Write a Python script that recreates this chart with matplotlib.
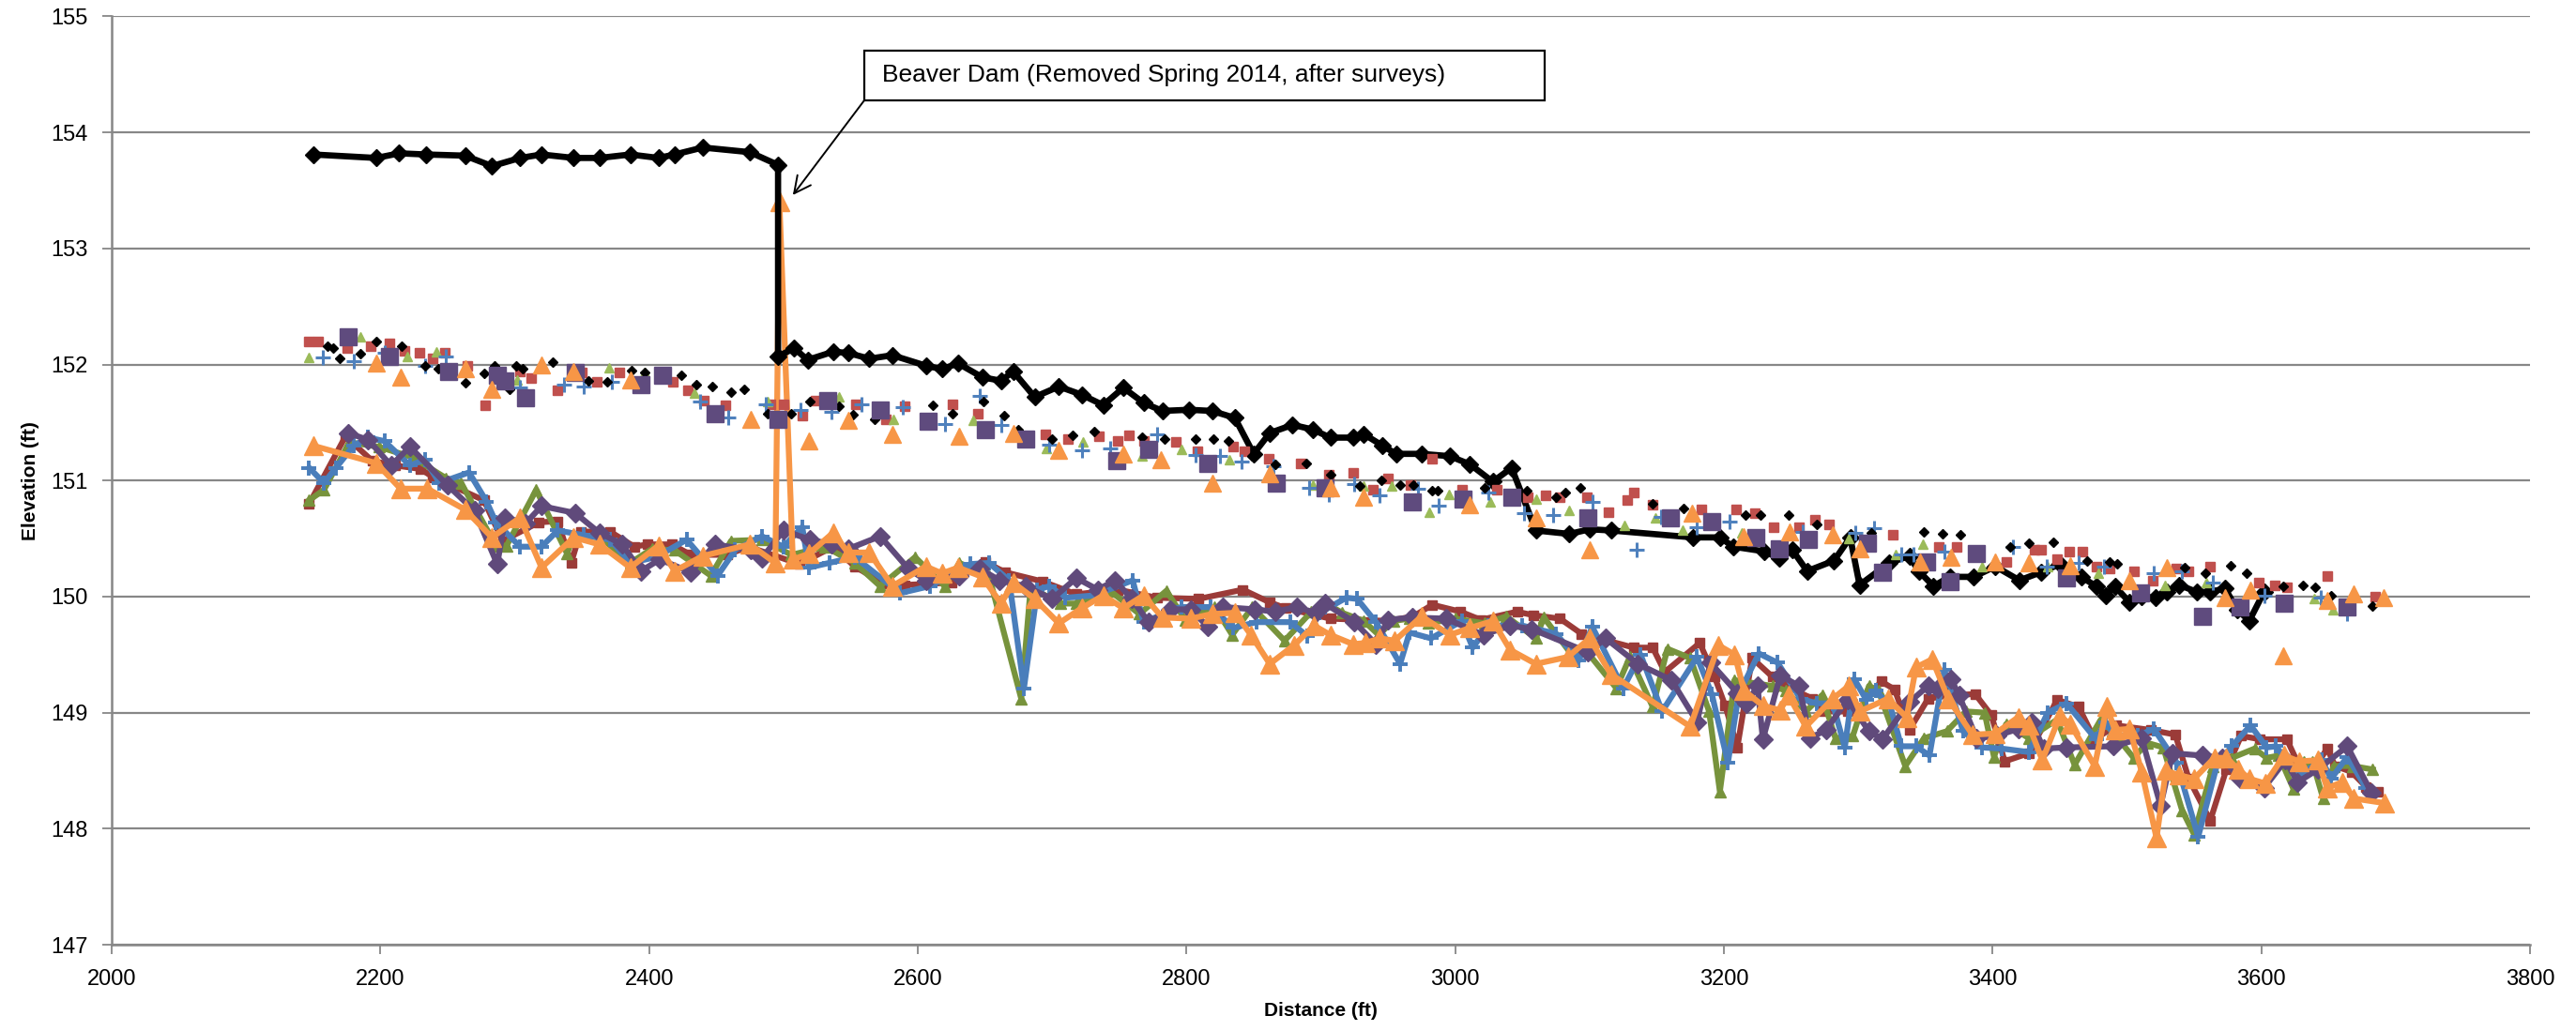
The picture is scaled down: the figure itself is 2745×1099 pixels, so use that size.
import matplotlib

matplotlib.use("Agg")

import matplotlib.pyplot as plt
import numpy as np
from matplotlib.patches import Rectangle

plt.rcParams["font.family"] = ["Liberation Sans", "DejaVu Sans"]

# Profile with the beaver dam (black line)
dam_profile = [
    (2150, 153.81), (2197, 153.78), (2214, 153.82), (2234, 153.81), (2263, 153.80), (2283, 153.71),
    (2304, 153.78), (2320, 153.81), (2344, 153.78), (2363, 153.78), (2386, 153.81), (2407, 153.78),
    (2419, 153.81), (2440, 153.87), (2475, 153.83), (2496, 153.72), (2496, 152.07), (2508, 152.14),
    (2518, 152.04), (2537, 152.11), (2548, 152.10), (2564, 152.05), (2581, 152.08), (2606, 151.99),
    (2618, 151.96), (2630, 152.01), (2648, 151.89), (2662, 151.86), (2671, 151.94), (2687, 151.72),
    (2705, 151.81), (2722, 151.74), (2738, 151.65), (2753, 151.80), (2768, 151.67), (2782, 151.60),
    (2802, 151.61), (2819, 151.60), (2836, 151.54), (2850, 151.23), (2862, 151.41), (2879, 151.48),
    (2894, 151.44), (2907, 151.37), (2924, 151.37), (2932, 151.40), (2946, 151.30), (2956, 151.23),
    (2975, 151.23), (2996, 151.21), (3011, 151.14), (3028, 150.99), (3042, 151.11), (3060, 150.57),
    (3085, 150.54), (3100, 150.58), (3116, 150.57), (3177, 150.51), (3197, 150.51), (3207, 150.43),
    (3230, 150.39), (3241, 150.33), (3251, 150.40), (3262, 150.22), (3282, 150.31), (3294, 150.51),
    (3301, 150.10), (3323, 150.29), (3338, 150.35), (3345, 150.22), (3356, 150.09), (3368, 150.17),
    (3386, 150.17), (3402, 150.26), (3420, 150.14), (3436, 150.21), (3450, 150.28), (3466, 150.17),
    (3477, 150.09), (3484, 150.01), (3491, 150.09), (3502, 149.95), (3511, 150.00), (3521, 149.99),
    (3530, 150.04), (3539, 150.10), (3552, 150.04), (3562, 150.04), (3573, 150.07), (3582, 149.89),
    (3591, 149.79), (3602, 150.04),
]

# Water surface points (markers only)
ws_red = [
    (2147, 152.20), (2154, 152.20), (2175, 152.14), (2193, 152.16), (2207, 152.18), (2218, 152.12),
    (2229, 152.10), (2239, 152.05), (2248, 152.10), (2265, 151.99), (2278, 151.65), (2304, 151.94),
    (2312, 151.88), (2332, 151.78), (2350, 151.93), (2361, 151.85), (2378, 151.93), (2418, 151.85),
    (2429, 151.78), (2441, 151.69), (2457, 151.65), (2490, 151.66), (2500, 151.66), (2514, 151.56),
    (2524, 151.69), (2554, 151.66), (2576, 151.53), (2590, 151.64), (2626, 151.66), (2645, 151.58),
    (2695, 151.40), (2712, 151.36), (2735, 151.38), (2749, 151.34), (2757, 151.39), (2768, 151.34),
    (2792, 151.33), (2808, 151.25), (2835, 151.29), (2843, 151.25), (2861, 151.19), (2885, 151.15),
    (2906, 151.05), (2924, 151.07), (2939, 150.92), (2950, 151.02), (2967, 150.96), (2983, 151.19),
    (3005, 150.92), (3031, 150.92), (3054, 150.86), (3067, 150.87), (3078, 150.86), (3098, 150.86),
    (3114, 150.73), (3128, 150.83), (3133, 150.90), (3147, 150.79), (3183, 150.75), (3209, 150.75),
    (3223, 150.72), (3237, 150.60), (3256, 150.60), (3268, 150.66), (3278, 150.62), (3326, 150.53),
    (3360, 150.43), (3373, 150.43), (3410, 150.30), (3431, 150.40), (3436, 150.40), (3448, 150.32),
    (3457, 150.39), (3467, 150.39), (3477, 150.26), (3487, 150.24), (3505, 150.22), (3519, 150.14),
    (3537, 150.24), (3546, 150.22), (3562, 150.26), (3598, 150.12), (3610, 150.10), (3619, 150.08),
    (3649, 150.18), (3685, 150.00),
]
ws_green = [
    (2147, 152.06), (2185, 152.24), (2220, 152.07), (2242, 152.11), (2285, 151.99), (2302, 151.87),
    (2370, 151.97), (2397, 151.93), (2434, 151.75), (2488, 151.68), (2541, 151.72), (2582, 151.53),
    (2641, 151.52), (2696, 151.28), (2723, 151.33), (2767, 151.21), (2796, 151.27), (2832, 151.18),
    (2894, 150.96), (2932, 150.95), (2953, 150.95), (2981, 150.73), (2995, 150.88), (3026, 150.82),
    (3060, 150.84), (3085, 150.74), (3126, 150.61), (3149, 150.68), (3169, 150.57), (3213, 150.55),
    (3293, 150.50), (3328, 150.36), (3348, 150.45), (3392, 150.26), (3441, 150.26), (3479, 150.20),
    (3528, 150.10), (3559, 150.12), (3639, 149.98), (3653, 149.89),
]
ws_blue = [
    (2157, 152.06), (2180, 152.03), (2203, 152.10), (2233, 151.99), (2249, 152.07), (2304, 151.80),
    (2337, 151.83), (2351, 151.81), (2372, 151.85), (2438, 151.68), (2459, 151.54), (2487, 151.66),
    (2513, 151.61), (2536, 151.59), (2558, 151.66), (2589, 151.63), (2620, 151.49), (2646, 151.73),
    (2662, 151.48), (2698, 151.31), (2722, 151.26), (2743, 151.28), (2778, 151.40), (2807, 151.22),
    (2825, 151.21), (2841, 151.16), (2865, 151.12), (2891, 150.94), (2906, 150.88), (2925, 150.97),
    (2944, 150.87), (2972, 150.93), (2988, 150.78), (3025, 150.90), (3051, 150.72), (3073, 150.70),
    (3102, 150.82), (3135, 150.40), (3153, 150.69), (3180, 150.60), (3204, 150.65), (3259, 150.56),
    (3298, 150.55), (3312, 150.59), (3332, 150.36), (3341, 150.36), (3364, 150.39), (3415, 150.43),
    (3440, 150.26), (3464, 150.29), (3483, 150.26), (3520, 150.20), (3541, 150.22), (3564, 150.12),
    (3602, 150.01), (3644, 149.99), (3664, 149.85),
]
ws_black = [
    (2161, 152.16), (2165, 152.14), (2170, 152.05), (2185, 152.09), (2197, 152.20), (2216, 152.16),
    (2233, 151.99), (2243, 151.96), (2263, 151.84), (2277, 151.92), (2285, 151.99), (2296, 151.79),
    (2301, 151.99), (2306, 151.96), (2328, 152.02), (2355, 151.86), (2369, 151.85), (2387, 151.95),
    (2397, 151.93), (2424, 151.91), (2435, 151.83), (2447, 151.81), (2461, 151.76), (2471, 151.79),
    (2488, 151.58), (2506, 151.58), (2520, 151.68), (2541, 151.64), (2552, 151.57), (2568, 151.53),
    (2611, 151.65), (2626, 151.58), (2649, 151.68), (2664, 151.56), (2675, 151.44), (2700, 151.36),
    (2715, 151.39), (2731, 151.42), (2767, 151.37), (2784, 151.36), (2807, 151.36), (2820, 151.36),
    (2831, 151.34), (2849, 151.21), (2866, 151.14), (2889, 151.15), (2907, 151.05), (2929, 150.95),
    (2945, 151.00), (2959, 150.96), (2969, 150.96), (2983, 150.91), (2987, 150.91), (3022, 150.94),
    (3053, 150.91), (3075, 150.86), (3082, 150.90), (3093, 150.94), (3147, 150.80), (3170, 150.76),
    (3216, 150.70), (3227, 150.70), (3248, 150.70), (3269, 150.62), (3310, 150.55), (3349, 150.56),
    (3363, 150.54), (3376, 150.53), (3413, 150.43), (3427, 150.46), (3445, 150.47), (3470, 150.31),
    (3487, 150.30), (3493, 150.28), (3543, 150.25), (3558, 150.20), (3577, 150.27), (3589, 150.20),
    (3616, 150.09), (3631, 150.10), (3640, 150.08), (3652, 150.01), (3683, 149.92),
]
ws_purple = [
    (2176, 152.24), (2207, 152.07), (2251, 151.94), (2287, 151.91), (2293, 151.86), (2308, 151.71),
    (2345, 151.93), (2394, 151.83), (2410, 151.91), (2449, 151.58), (2496, 151.53), (2533, 151.69),
    (2572, 151.61), (2608, 151.51), (2650, 151.44), (2680, 151.36), (2748, 151.17), (2772, 151.27),
    (2816, 151.15), (2867, 150.98), (2903, 150.94), (2968, 150.82), (3006, 150.84), (3042, 150.86),
    (3099, 150.68), (3160, 150.68), (3191, 150.65), (3224, 150.51), (3241, 150.41), (3263, 150.49),
    (3307, 150.46), (3318, 150.21), (3351, 150.30), (3368, 150.13), (3388, 150.37), (3455, 150.16),
    (3510, 150.03), (3556, 149.83), (3584, 149.91), (3617, 149.94), (3664, 149.91),
]
ws_orange = [
    (2197, 152.01), (2215, 151.89), (2263, 151.96), (2283, 151.79), (2320, 152.00), (2344, 151.94),
    (2386, 151.87), (2476, 151.53), (2519, 151.34), (2548, 151.52), (2581, 151.40), (2631, 151.38),
    (2671, 151.41), (2705, 151.26), (2753, 151.23), (2781, 151.18), (2819, 150.98), (2862, 151.06),
    (2907, 150.94), (2932, 150.86), (3011, 150.79), (3060, 150.68), (3100, 150.40), (3176, 150.72),
    (3215, 150.52), (3249, 150.56), (3281, 150.53), (3301, 150.41), (3346, 150.30), (3369, 150.34),
    (3402, 150.30), (3427, 150.29), (3458, 150.27), (3502, 150.14), (3530, 150.25), (3573, 149.99),
    (3592, 150.06), (3616, 149.49), (3649, 149.97), (3669, 150.02), (3691, 149.99),
]

# Bed profiles (lines with markers)
bed_red = [
    (2147, 150.80), (2174, 151.38), (2194, 151.17), (2211, 151.13), (2230, 151.10), (2239, 151.03),
    (2277, 150.83), (2291, 150.48), (2318, 150.64), (2332, 150.65), (2342, 150.29), (2349, 150.56),
    (2371, 150.56), (2389, 150.43), (2399, 150.45), (2417, 150.45), (2431, 150.36), (2458, 150.36),
    (2474, 150.43), (2512, 150.28), (2537, 150.43), (2553, 150.26), (2575, 150.11), (2590, 150.10),
    (2625, 150.12), (2650, 150.30), (2665, 150.21), (2693, 150.13), (2718, 150.02), (2749, 150.06),
    (2778, 149.99), (2809, 149.98), (2842, 150.06), (2862, 149.95), (2874, 149.90), (2907, 149.81),
    (2950, 149.79), (2969, 149.83), (2983, 149.93), (3004, 149.87), (3019, 149.80), (3046, 149.87),
    (3058, 149.84), (3078, 149.81), (3094, 149.68), (3133, 149.56), (3147, 149.56), (3156, 149.35),
    (3182, 149.60), (3193, 149.31), (3201, 149.06), (3210, 148.70), (3221, 149.47), (3236, 149.31),
    (3246, 149.23), (3266, 149.12), (3273, 149.01), (3292, 149.01), (3301, 149.04), (3317, 149.27),
    (3327, 149.20), (3338, 148.85), (3352, 149.12), (3369, 149.15), (3387, 149.16), (3399, 148.98),
    (3409, 148.58), (3427, 148.65), (3448, 149.11), (3464, 149.05), (3476, 148.77), (3492, 148.89),
    (3518, 148.85), (3536, 148.81), (3546, 148.43), (3562, 148.07), (3574, 148.51), (3585, 148.80),
    (3599, 148.77), (3619, 148.77), (3627, 148.57), (3639, 148.51), (3649, 148.69), (3655, 148.54),
    (3667, 148.49), (3678, 148.36), (3687, 148.32),
]
bed_green = [
    (2147, 150.83), (2158, 150.92), (2177, 151.33), (2199, 151.29), (2224, 151.20), (2249, 151.02),
    (2260, 150.98), (2286, 150.44), (2294, 150.44), (2316, 150.92), (2339, 150.37), (2344, 150.53),
    (2364, 150.51), (2386, 150.29), (2402, 150.41), (2419, 150.40), (2446, 150.18), (2461, 150.48),
    (2484, 150.49), (2506, 150.36), (2531, 150.43), (2553, 150.29), (2572, 150.09), (2598, 150.34),
    (2620, 150.09), (2631, 150.29), (2653, 150.18), (2677, 149.12), (2684, 150.08), (2706, 149.94),
    (2718, 149.94), (2743, 150.05), (2765, 149.85), (2785, 150.05), (2799, 149.80), (2821, 149.91),
    (2834, 149.67), (2849, 149.91), (2873, 149.62), (2893, 149.87), (2904, 149.94), (2916, 149.86),
    (2932, 149.79), (2943, 149.67), (2954, 149.79), (2966, 149.81), (2980, 149.77), (3000, 149.81),
    (3022, 149.77), (3038, 149.83), (3060, 149.64), (3066, 149.82), (3086, 149.51), (3097, 149.54),
    (3120, 149.21), (3130, 149.48), (3147, 149.05), (3158, 149.55), (3175, 149.47), (3189, 149.01),
    (3197, 148.32), (3208, 149.28), (3236, 149.23), (3246, 149.19), (3261, 149.01), (3273, 149.15),
    (3283, 148.78), (3296, 148.80), (3308, 149.23), (3315, 149.19), (3335, 148.54), (3349, 148.78),
    (3366, 148.84), (3380, 149.01), (3394, 149.00), (3401, 148.62), (3410, 148.90), (3427, 148.78),
    (3448, 148.94), (3461, 148.55), (3480, 148.93), (3489, 148.84), (3505, 148.61), (3515, 148.74),
    (3527, 148.70), (3541, 148.16), (3550, 147.95), (3564, 148.54), (3578, 148.61), (3595, 148.69),
    (3604, 148.61), (3613, 148.63), (3624, 148.34), (3632, 148.58), (3638, 148.58), (3646, 148.26),
    (3654, 148.54), (3668, 148.54), (3683, 148.51),
]
bed_blue = [
    (2147, 151.11), (2158, 150.98), (2167, 151.11), (2180, 151.30), (2191, 151.37), (2203, 151.34),
    (2222, 151.13), (2233, 151.18), (2244, 150.98), (2266, 151.07), (2279, 150.82), (2286, 150.64),
    (2304, 150.43), (2320, 150.43), (2332, 150.57), (2351, 150.53), (2371, 150.49), (2386, 150.29),
    (2405, 150.34), (2428, 150.49), (2451, 150.18), (2464, 150.40), (2484, 150.52), (2500, 150.43),
    (2514, 150.60), (2519, 150.25), (2534, 150.29), (2553, 150.34), (2587, 150.03), (2609, 150.09),
    (2639, 150.28), (2653, 150.29), (2668, 150.14), (2679, 149.21), (2689, 150.06), (2698, 150.09),
    (2710, 149.99), (2731, 150.01), (2760, 150.14), (2768, 149.78), (2796, 149.91), (2818, 149.91),
    (2835, 149.73), (2852, 149.78), (2877, 149.78), (2890, 149.66), (2899, 149.86), (2919, 149.99),
    (2927, 149.98), (2941, 149.78), (2959, 149.42), (2966, 149.69), (2982, 149.64), (3005, 149.79),
    (3013, 149.56), (3025, 149.75), (3050, 149.75), (3075, 149.68), (3092, 149.45), (3102, 149.74),
    (3125, 149.21), (3138, 149.50), (3154, 149.01), (3180, 149.48), (3191, 149.16), (3203, 148.57),
    (3211, 149.16), (3226, 149.51), (3240, 149.43), (3257, 149.12), (3269, 149.08), (3281, 149.08),
    (3290, 148.70), (3297, 149.29), (3306, 149.11), (3313, 149.19), (3324, 149.05), (3332, 148.71),
    (3343, 148.71), (3353, 148.63), (3364, 149.37), (3378, 148.84), (3392, 148.70), (3407, 148.69),
    (3427, 148.66), (3441, 149.00), (3455, 149.08), (3477, 148.77), (3484, 148.92), (3491, 148.80),
    (3508, 148.80), (3520, 148.86), (3537, 148.57), (3553, 147.93), (3567, 148.55), (3578, 148.71),
    (3592, 148.89), (3604, 148.70), (3611, 148.71), (3622, 148.54), (3628, 148.46), (3645, 148.59),
    (3652, 148.43), (3664, 148.62), (3678, 148.35),
]
bed_purple = [
    (2176, 151.41), (2191, 151.35), (2208, 151.13), (2222, 151.29), (2250, 150.96), (2270, 150.74),
    (2287, 150.28), (2293, 150.68), (2308, 150.63), (2320, 150.78), (2345, 150.72), (2363, 150.55),
    (2380, 150.45), (2394, 150.22), (2408, 150.32), (2431, 150.21), (2449, 150.45), (2476, 150.40),
    (2484, 150.33), (2500, 150.57), (2520, 150.49), (2536, 150.45), (2548, 150.41), (2572, 150.52),
    (2593, 150.24), (2606, 150.14), (2631, 150.18), (2646, 150.24), (2661, 150.14), (2680, 150.09),
    (2700, 149.98), (2718, 150.16), (2734, 150.06), (2747, 150.14), (2759, 149.98), (2772, 149.78),
    (2788, 149.89), (2803, 149.89), (2816, 149.74), (2827, 149.91), (2851, 149.89), (2866, 149.87),
    (2882, 149.91), (2896, 149.86), (2903, 149.94), (2925, 149.78), (2941, 149.59), (2950, 149.80),
    (2968, 149.82), (2993, 149.81), (3021, 149.67), (3041, 149.75), (3057, 149.72), (3099, 149.52),
    (3112, 149.64), (3136, 149.42), (3161, 149.28), (3180, 148.92), (3190, 149.43), (3210, 149.17),
    (3217, 149.08), (3225, 149.23), (3229, 148.77), (3242, 149.32), (3256, 149.23), (3264, 148.78),
    (3276, 148.85), (3292, 149.11), (3308, 148.84), (3318, 148.77), (3338, 149.09), (3352, 149.23),
    (3359, 149.21), (3369, 149.29), (3375, 149.15), (3388, 148.78), (3403, 148.80), (3419, 148.86),
    (3429, 148.92), (3438, 148.69), (3455, 148.70), (3490, 148.71), (3511, 148.78), (3525, 148.20),
    (3534, 148.65), (3556, 148.63), (3571, 148.61), (3584, 148.43), (3602, 148.35), (3618, 148.59),
    (3627, 148.40), (3642, 148.51), (3664, 148.71), (3682, 148.31),
]
bed_orange = [
    (2150, 151.30), (2197, 151.15), (2215, 150.93), (2235, 150.93), (2263, 150.75), (2283, 150.51),
    (2304, 150.68), (2320, 150.25), (2344, 150.51), (2363, 150.45), (2386, 150.25), (2407, 150.44),
    (2419, 150.22), (2440, 150.35), (2475, 150.45), (2494, 150.29), (2497, 153.40), (2507, 150.32),
    (2519, 150.37), (2537, 150.55), (2548, 150.38), (2564, 150.38), (2581, 150.09), (2606, 150.26),
    (2618, 150.20), (2630, 150.25), (2648, 150.17), (2662, 149.94), (2671, 150.12), (2687, 149.98),
    (2705, 149.77), (2722, 149.90), (2738, 150.01), (2753, 149.90), (2768, 150.01), (2782, 149.82),
    (2803, 149.81), (2819, 149.85), (2836, 149.86), (2848, 149.67), (2862, 149.42), (2880, 149.58),
    (2895, 149.75), (2907, 149.67), (2924, 149.59), (2933, 149.60), (2944, 149.64), (2955, 149.62),
    (2975, 149.83), (2996, 149.67), (3011, 149.73), (3028, 149.79), (3041, 149.54), (3060, 149.42),
    (3084, 149.48), (3100, 149.64), (3116, 149.33), (3175, 148.88), (3196, 149.58), (3208, 149.50),
    (3215, 149.19), (3229, 149.06), (3242, 149.02), (3248, 149.15), (3261, 148.88), (3281, 149.12),
    (3293, 149.23), (3301, 149.01), (3322, 149.12), (3336, 148.96), (3343, 149.39), (3355, 149.46),
    (3367, 149.12), (3385, 148.81), (3402, 148.82), (3419, 148.96), (3427, 148.89), (3437, 148.59),
    (3450, 148.97), (3458, 148.90), (3476, 148.54), (3485, 149.05), (3491, 148.85), (3502, 148.86),
    (3511, 148.49), (3522, 147.92), (3529, 148.50), (3539, 148.46), (3550, 148.43), (3565, 148.61),
    (3574, 148.61), (3583, 148.51), (3591, 148.43), (3603, 148.39), (3617, 148.63), (3628, 148.58),
    (3642, 148.59), (3649, 148.35), (3660, 148.40), (3669, 148.26), (3692, 148.22),
]

x_ticks = [2000, 2200, 2400, 2600, 2800, 3000, 3200, 3400, 3600, 3800]
y_ticks = [147, 148, 149, 150, 151, 152, 153, 154, 155]
dam_note = "Beaver Dam (Removed Spring 2014, after surveys)"
dam_point = (2507, 153.46)

GRID = "#878787"


def xy(points):
    arr = np.array(points, dtype=float)
    return arr[:, 0], arr[:, 1]


fig = plt.figure(figsize=(27.45, 10.99), dpi=100)
ax = fig.add_axes([0.04335, 0.0837, 0.9388, 0.9004])

bed_styles = [
    (bed_red, "#9B3B38", "s", 7, 1.0),
    (bed_green, "#77933C", "^", 8, 1.0),
    (bed_blue, "#4A7EBB", "+", 12, 2.8),
    (bed_purple, "#604A7B", "D", 10.5, 1.0),
    (bed_orange, "#F79646", "^", 14, 1.0),
]
for pts, color, marker, ms, mew in bed_styles:
    x, y = xy(pts)
    ax.plot(x, y, color=color, lw=4.5, marker=marker, ms=ms, mew=mew,
            mfc=color, mec=color, solid_joinstyle="round", zorder=3)

x, y = xy(dam_profile)
ax.plot(x, y, color="black", lw=4.8, marker="D", ms=9.5, mfc="black", mec="black", zorder=4)

scatter_styles = [
    (ws_red, "#C0504D", "s", 7.5, 1.0),
    (ws_green, "#9BBB59", "^", 7.5, 1.0),
    (ws_blue, "#4F81BD", "+", 11, 2.2),
    (ws_black, "black", "D", 5.5, 1.0),
    (ws_purple, "#5F4B7E", "s", 13.5, 1.0),
    (ws_orange, "#F79646", "^", 12.5, 1.0),
]
for pts, color, marker, ms, mew in scatter_styles:
    x, y = xy(pts)
    ax.plot(x, y, ls="none", marker=marker, ms=ms, mew=mew, mfc=color, mec=color, zorder=5)

ax.set_xlim(2000, 3800)
ax.set_ylim(147, 155)
ax.set_xticks(x_ticks)
ax.set_yticks(y_ticks)
ax.yaxis.grid(True, color=GRID, lw=1.6)
ax.set_axisbelow(True)
for side in ["top", "right"]:
    ax.spines[side].set_visible(False)
for side in ["left", "bottom"]:
    ax.spines[side].set_color(GRID)
    ax.spines[side].set_linewidth(1.8)
ax.tick_params(axis="both", direction="out", length=7, width=1.3, color=GRID, labelsize=17)
ax.tick_params(axis="y", pad=11)
ax.tick_params(axis="x", pad=12)

ax.set_xlabel("Distance (ft)", fontsize=15, fontweight="bold")
ax.set_ylabel("Elevation (ft)", fontsize=15, fontweight="bold")
ax.xaxis.set_label_coords(0.5, -0.062)
ax.yaxis.set_label_coords(-0.030, 0.5)

# annotation box and arrow
box = Rectangle((0.3355, 0.9026), 0.2641, 0.0483, transform=fig.transFigure,
                fill=True, facecolor="white", edgecolor="black", lw=1.6, zorder=10)
fig.patches.append(box)
fig.text(0.3424, 0.9272, dam_note, fontsize=19, va="center", ha="left", zorder=11)
ax.annotate("", xy=dam_point, xycoords="data", xytext=(0.3355, 0.9026),
            textcoords="figure fraction",
            arrowprops=dict(arrowstyle="->", lw=1.4, color="black", mutation_scale=32,
                            shrinkA=0, shrinkB=0),
            zorder=9)

fig.savefig("out.png", dpi=100)
